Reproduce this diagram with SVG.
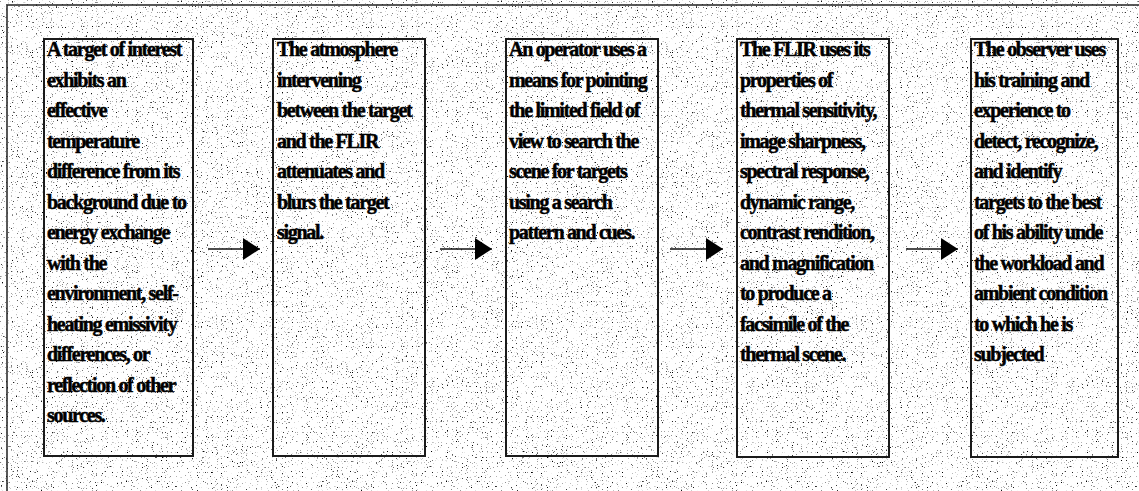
<svg xmlns="http://www.w3.org/2000/svg" width="1139" height="491" viewBox="0 0 1139 491">
<defs>
<style>
.box{fill:none;stroke:#1a1a1a;stroke-width:2}
.t{font-family:"Liberation Serif","Times New Roman",serif;font-weight:bold;font-size:20px;letter-spacing:-1.3px;fill:#000;stroke:#000;stroke-width:0.5}
.ln{stroke:#111;stroke-width:1.5;fill:none}
.frame{stroke:#222;stroke-width:1.5;fill:none}
</style>
<filter id="speckle" x="0" y="0" width="100%" height="100%">
<feTurbulence type="fractalNoise" baseFrequency="0.8" numOctaves="1" seed="7"/>
<feColorMatrix type="matrix" values="0 0 0 0 0  0 0 0 0 0  0 0 0 0 0  8 0 0 0 -5.1"/>
</filter>
<marker id="ah" markerWidth="18" markerHeight="22" refX="17" refY="11" orient="auto" markerUnits="userSpaceOnUse">
<path d="M0,0 L17,11 L0,22 Z" fill="#000"/>
</marker>
</defs>
<rect x="0" y="0" width="1139" height="491" fill="#fff"/>
<rect x="0" y="0" width="1139" height="491" filter="url(#speckle)"/>
<path class="frame" d="M7,491 V5 H1139"/>

<g id="node1">
<rect class="box" x="44" y="39" width="149" height="417"/>
<text class="t" x="47" y="56">A target of interest</text>
<text class="t" x="47" y="86.5">exhibits an</text>
<text class="t" x="47" y="117">effective</text>
<text class="t" x="47" y="147.5">temperature</text>
<text class="t" x="47" y="178">difference from its</text>
<text class="t" x="47" y="208.5">background due to</text>
<text class="t" x="47" y="239">energy exchange</text>
<text class="t" x="47" y="269.5">with the</text>
<text class="t" x="47" y="300">environment, self-</text>
<text class="t" x="47" y="330.5">heating emissivity</text>
<text class="t" x="47" y="361">differences, or</text>
<text class="t" x="47" y="391.5">reflection of other</text>
<text class="t" x="47" y="422">sources.</text>
</g>

<g id="node2">
<rect class="box" x="273" y="39" width="152" height="417"/>
<text class="t" x="277" y="56">The atmosphere</text>
<text class="t" x="277" y="86.5">intervening</text>
<text class="t" x="277" y="117">between the target</text>
<text class="t" x="277" y="147.5">and the FLIR</text>
<text class="t" x="277" y="178">attenuates and</text>
<text class="t" x="277" y="208.5">blurs the target</text>
<text class="t" x="277" y="239">signal.</text>
</g>

<g id="node3">
<rect class="box" x="506" y="39" width="152" height="417"/>
<text class="t" x="509" y="56">An operator uses a</text>
<text class="t" x="509" y="86.5">means for pointing</text>
<text class="t" x="509" y="117">the limited field of</text>
<text class="t" x="509" y="147.5">view to search the</text>
<text class="t" x="509" y="178">scene for targets</text>
<text class="t" x="509" y="208.5">using a search</text>
<text class="t" x="509" y="239">pattern and cues.</text>
</g>

<g id="node4">
<rect class="box" x="737" y="39" width="152" height="418"/>
<text class="t" x="740" y="56">The FLIR uses its</text>
<text class="t" x="740" y="86.5">properties of</text>
<text class="t" x="740" y="117">thermal sensitivity,</text>
<text class="t" x="740" y="147.5">image sharpness,</text>
<text class="t" x="740" y="178">spectral response,</text>
<text class="t" x="740" y="208.5">dynamic range,</text>
<text class="t" x="740" y="239">contrast rendition,</text>
<text class="t" x="740" y="269.5">and magnification</text>
<text class="t" x="740" y="300">to produce a</text>
<text class="t" x="740" y="330.5">facsimile of the</text>
<text class="t" x="740" y="361">thermal scene.</text>
</g>

<g id="node5">
<rect class="box" x="971" y="39" width="147" height="418"/>
<text class="t" x="974" y="56">The observer uses</text>
<text class="t" x="974" y="86.5">his training and</text>
<text class="t" x="974" y="117">experience to</text>
<text class="t" x="974" y="147.5">detect, recognize,</text>
<text class="t" x="974" y="178">and identify</text>
<text class="t" x="974" y="208.5">targets to the best</text>
<text class="t" x="974" y="239">of his ability unde</text>
<text class="t" x="974" y="269.5">the workload and</text>
<text class="t" x="974" y="300">ambient condition</text>
<text class="t" x="974" y="330.5">to which he is</text>
<text class="t" x="974" y="361">subjected</text>
</g>

<g id="connectors">
<line class="ln" x1="208" y1="249" x2="260" y2="249" marker-end="url(#ah)"/>
<line class="ln" x1="440" y1="249" x2="492" y2="249" marker-end="url(#ah)"/>
<line class="ln" x1="670" y1="249" x2="723" y2="249" marker-end="url(#ah)"/>
<line class="ln" x1="906" y1="249" x2="958" y2="249" marker-end="url(#ah)"/>
</g>
</svg>
